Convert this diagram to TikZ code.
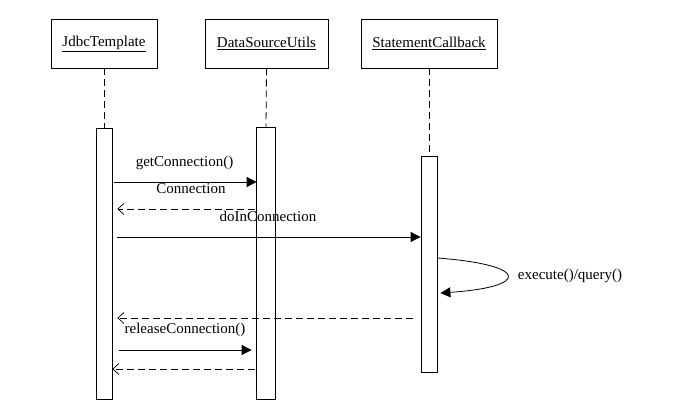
\documentclass[tikz,border=0pt]{standalone}
\usepackage{fontspec}
\setmainfont{Liberation Serif}
\usetikzlibrary{arrows.meta}

\tikzset{
    objbox/.style={draw, line width=0.8pt, minimum height=49pt, inner sep=0pt, font=\fontsize{15}{18}\selectfont},
    actbar/.style={draw, line width=0.8pt, inner sep=0pt},
    lifeline/.style={line width=0.8pt, dash pattern=on 7pt off 4pt},
    call/.style={line width=0.8pt, -{Triangle[length=10pt,width=10pt]}},
    reply/.style={line width=0.8pt, dash pattern=on 7pt off 4pt, -{Straight Barb[length=6pt,width=11pt,line width=0.7pt]}},
    msg/.style={font=\fontsize{15}{18}\selectfont, inner sep=1pt},
}

\begin{document}
\begin{tikzpicture}[x=1pt, y=-1pt]

    \useasboundingbox (0,0) rectangle (688,404);

    % Objects
    \node[objbox, minimum width=106pt] (jdbc) at (104,43.5) {\underline{JdbcTemplate}};
    \node[objbox, minimum width=123pt] (dsu) at (266.5,43.5) {\underline{DataSourceUtils}};
    \node[objbox, minimum width=136pt] (stmt) at (429,43.5) {\underline{StatementCallback}};

    % Activation bars (DataSourceUtils bar is drawn last, over the labels)
    \node[actbar, minimum width=16pt, minimum height=271pt] (jbar) at (104,263.5) {};
    \node[actbar, draw=none, minimum width=18pt, minimum height=271pt] (dbar) at (266,263.5) {};
    \node[actbar, minimum width=16pt, minimum height=216pt] (sbar) at (429,264) {};

    % Lifelines
    \draw[lifeline] (jdbc.south) -- (jbar.north);
    \draw[lifeline] (dsu.south) -- (dbar.north);
    \draw[lifeline] (stmt.south) -- (sbar.north);

    % Message levels
    \coordinate (m1) at (0,182);
    \coordinate (m2) at (0,209);
    \coordinate (m3) at (0,237);
    \coordinate (m4) at (0,318);
    \coordinate (m5) at (0,350);
    \coordinate (m6) at (0,369);

    % Messages
    \draw[call] ([xshift=2pt]jbar.east |- m1) -- (dbar.west |- m1);
    \draw[reply] ([xshift=-2pt]dbar.west |- m2) -- ([xshift=5pt]jbar.east |- m2);
    \draw[call] ([xshift=5pt]jbar.east |- m3) -- (sbar.west |- m3);
    \draw[call] (sbar.east |- 0,258) .. controls (530,265) and (530,287) .. ([xshift=3pt]sbar.east |- 0,293);
    \draw[reply] ([xshift=-8pt]sbar.west |- m4) -- ([xshift=5pt]jbar.east |- m4);
    \draw[call] ([xshift=7pt]jbar.east |- m5) -- ([xshift=-5pt]dbar.west |- m5);
    \draw[reply] ([xshift=-2pt]dbar.west |- m6) -- (jbar.east |- m6);

    % Labels
    \node[msg] (lget) at (184.5,163) {getConnection()};
    \node[msg, fill=white] (lconn) at (191,189) {Connection};
    \node[msg, fill=white] (ldo) at (268,216) {doInConnection};
    \node[msg] (lexec) at (570,276) {execute()/query()};
    \node[msg] (lrel) at (185,330) {releaseConnection()};

    % DataSourceUtils bar on top of the labels
    \draw[line width=0.8pt] (dbar.north west) rectangle (dbar.south east);

\end{tikzpicture}
\end{document}
